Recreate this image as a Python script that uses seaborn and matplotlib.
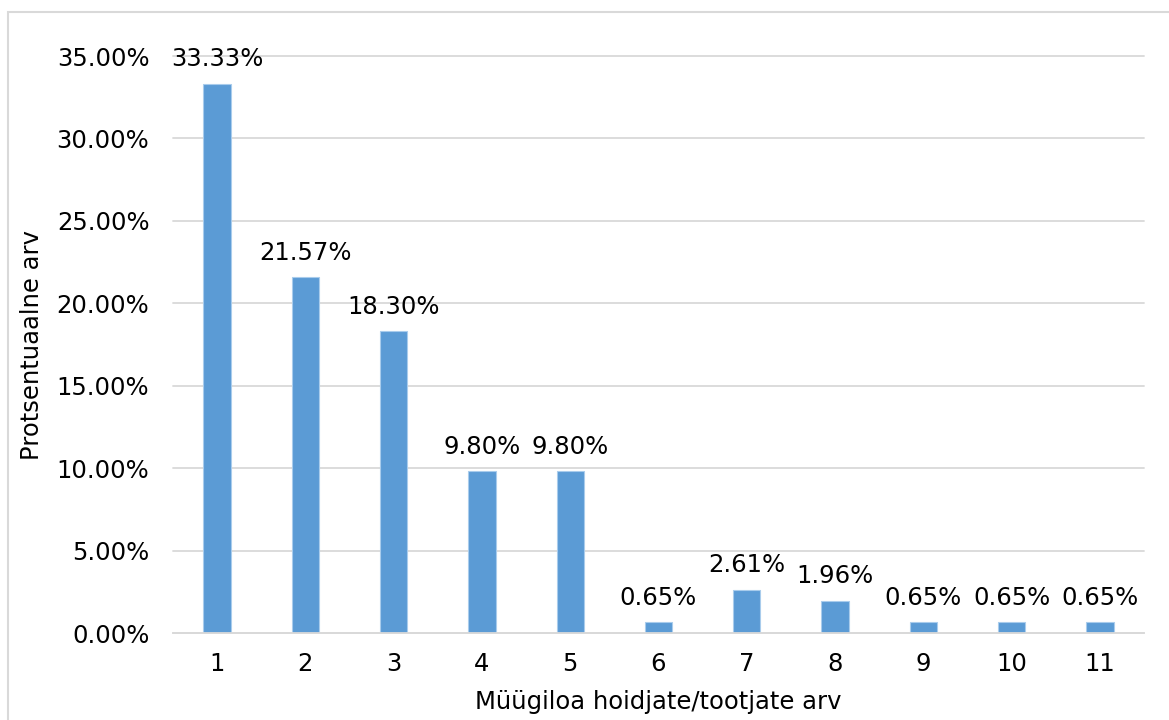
import matplotlib
matplotlib.use("Agg")
import matplotlib.pyplot as plt
import seaborn as sns
import pandas as pd
from matplotlib.patches import Rectangle
from matplotlib.ticker import FuncFormatter, MultipleLocator

# Share of products by number of marketing-authorisation holders/manufacturers
holders = ["1", "2", "3", "4", "5", "6", "7", "8", "9", "10", "11"]
shares = [33.33, 21.57, 18.30, 9.80, 9.80, 0.65, 2.61, 1.96, 0.65, 0.65, 0.65]

x_title = "Müügiloa hoidjate/tootjate arv"
y_title = "Protsentuaalne arv"

df = pd.DataFrame({"holders": holders, "share": shares})

sns.set_theme(style="white")
plt.rcParams["font.family"] = ["DejaVu Sans"]

fig = plt.figure(figsize=(11.69, 7.2), dpi=100)
ax = fig.add_axes([0.148, 0.1208, 0.8306, 0.8014])

bar_color = "#5B9BD5"
sns.barplot(data=df, x="holders", y="share", order=holders, color=bar_color,
            width=0.31, edgecolor="#A9CCEC", linewidth=0.8, saturation=1, ax=ax)

ax.set_ylim(0, 35)
ax.set_xlim(-0.5, len(holders) - 0.5)
ax.yaxis.set_major_locator(MultipleLocator(5))
ax.yaxis.set_major_formatter(FuncFormatter(lambda v, _: f"{v:.2f}%"))
ax.grid(axis="y", color="#D9D9D9", linewidth=1.3)
for gl in ax.get_ygridlines():
    gl.set_clip_on(False)
ax.set_axisbelow(True)
for side in ["top", "right", "left"]:
    ax.spines[side].set_visible(False)
ax.spines["bottom"].set_color("#D9D9D9")
ax.spines["bottom"].set_linewidth(1.3)
ax.tick_params(axis="both", length=0, labelsize=17.5, colors="black")
ax.tick_params(axis="x", pad=14)
ax.tick_params(axis="y", pad=17)

for i, v in enumerate(shares):
    ax.annotate(f"{v:.2f}%", xy=(i, v), xytext=(0, 9), textcoords="offset points",
                ha="center", va="bottom", fontsize=17.5, color="black")

ax.set_xlabel(x_title, fontsize=17.5, color="black", labelpad=10)
ax.set_ylabel(y_title, fontsize=17.5, color="black", labelpad=9)

# chart frame
fig.patches.append(Rectangle((8 / 1169, -0.1), 1.2, 1 - 12 / 720 + 0.1,
                             transform=fig.transFigure, fill=False,
                             edgecolor="#D9D9D9", linewidth=1.5))

fig.savefig("out.png", dpi=100, facecolor="white")
